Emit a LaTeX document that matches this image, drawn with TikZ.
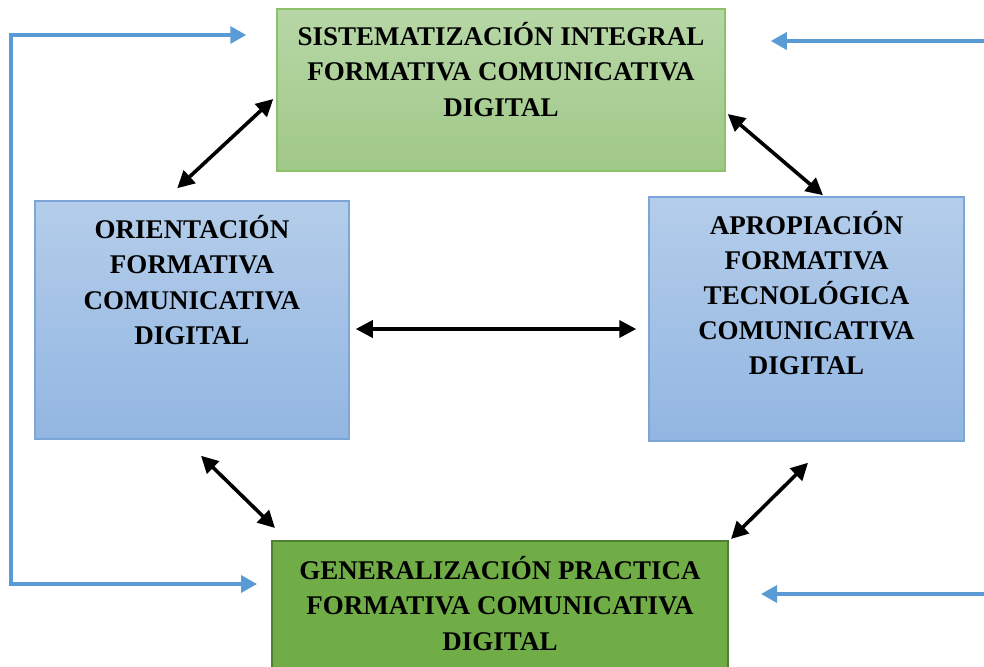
\documentclass[tikz,border=0pt]{standalone}
\usepackage{fontspec}
\setmainfont{Liberation Serif}
\usetikzlibrary{arrows.meta,calc}
\definecolor{gtop}{RGB}{183,215,166}
\definecolor{gbot}{RGB}{160,200,136}
\definecolor{gline}{RGB}{140,192,106}
\definecolor{btop}{RGB}{180,205,234}
\definecolor{bbot}{RGB}{146,182,226}
\definecolor{bline}{RGB}{125,165,216}
\definecolor{dgreen}{RGB}{112,173,71}
\definecolor{dgline}{RGB}{80,126,50}
\definecolor{arrblue}{RGB}{91,155,213}
\tikzset{
  gbox/.style={draw=gline, line width=1.5pt, top color=gtop, bottom color=gbot, rectangle, inner sep=0pt},
  bbox/.style={draw=bline, line width=1.5pt, top color=btop, bottom color=bbot, rectangle, inner sep=0pt},
  dbox/.style={draw=dgline, line width=2pt, fill=dgreen, rectangle, inner sep=0pt},
  lbl/.style={align=center, font=\fontsize{27}{35.2}\selectfont\bfseries, inner sep=0pt},
  dbl/.style={line width=3.6pt, {Triangle[length=17pt,width=17pt]}-{Triangle[length=17pt,width=17pt]}},
  barrow/.style={draw=arrblue, line width=3.4pt}
}
\begin{document}
\begin{tikzpicture}[x=1pt,y=-1pt]
\useasboundingbox (0,0) rectangle (984,666);
% boxes
\node[gbox, minimum width=448pt, minimum height=162pt] (sis) at (501,90) {};
\node[bbox, minimum width=314pt, minimum height=238pt] (ori) at (192,320) {};
\node[bbox, minimum width=315pt, minimum height=244pt] (apo) at (806.5,319) {};
\node[dbox, minimum width=456pt, minimum height=140pt] (gen) at (500,611) {};
% labels
\node[lbl] (tsis) at (501,69.5) {SISTEMATIZACIÓN INTEGRAL\\FORMATIVA COMUNICATIVA\\DIGITAL};
\node[lbl] (tori) at (192,280) {ORIENTACIÓN\\FORMATIVA\\COMUNICATIVA\\DIGITAL};
\node[lbl] (tapo) at (806.5,293) {APROPIACIÓN\\FORMATIVA\\TECNOLÓGICA\\COMUNICATIVA\\DIGITAL};
\node[lbl] (tgen) at (500,603.5) {GENERALIZACIÓN PRACTICA\\FORMATIVA COMUNICATIVA\\DIGITAL};
% black double arrows
\draw[dbl] ($(ori.north west)+(143,-12)$) -- ($(sis.west)+(-3,9)$);
\draw[dbl] ($(sis.east)+(2,24)$) -- ($(apo.north)+(16.5,-1)$);
\draw[dbl] ($(ori.east)+(6,9)$) -- ($(apo.west)+(-12,10)$);
\draw[dbl] ($(ori.south)+(9,16)$) -- ($(gen.north west)+(4,-12)$);
\draw[dbl] ($(apo.south)+(1.5,21)$) -- ($(gen.north east)+(2,-1)$);
% blue feedback arrows
\coordinate (ltip) at ($(sis.west)+(-30,-55)$);
\coordinate (lbtip) at ($(gen.west)+(-14,-27)$);
\coordinate (lc1) at (11,35);
\coordinate (lc2) at (11,584);
\draw[barrow, {Triangle[length=16pt,width=17pt]}-{Triangle[length=16pt,width=17pt]}] (ltip) -- (lc1) -- (lc2) -- (lbtip);
\coordinate (r1) at (986,41);
\coordinate (r2) at (986,594);
\draw[barrow, -{Triangle[length=16pt,width=17pt]}] (r1) -- ($(sis.east)+(45,-49)$);
\draw[barrow, -{Triangle[length=16pt,width=17pt]}] (r2) -- ($(gen.east)+(32,-17)$);
\end{tikzpicture}
\end{document}
